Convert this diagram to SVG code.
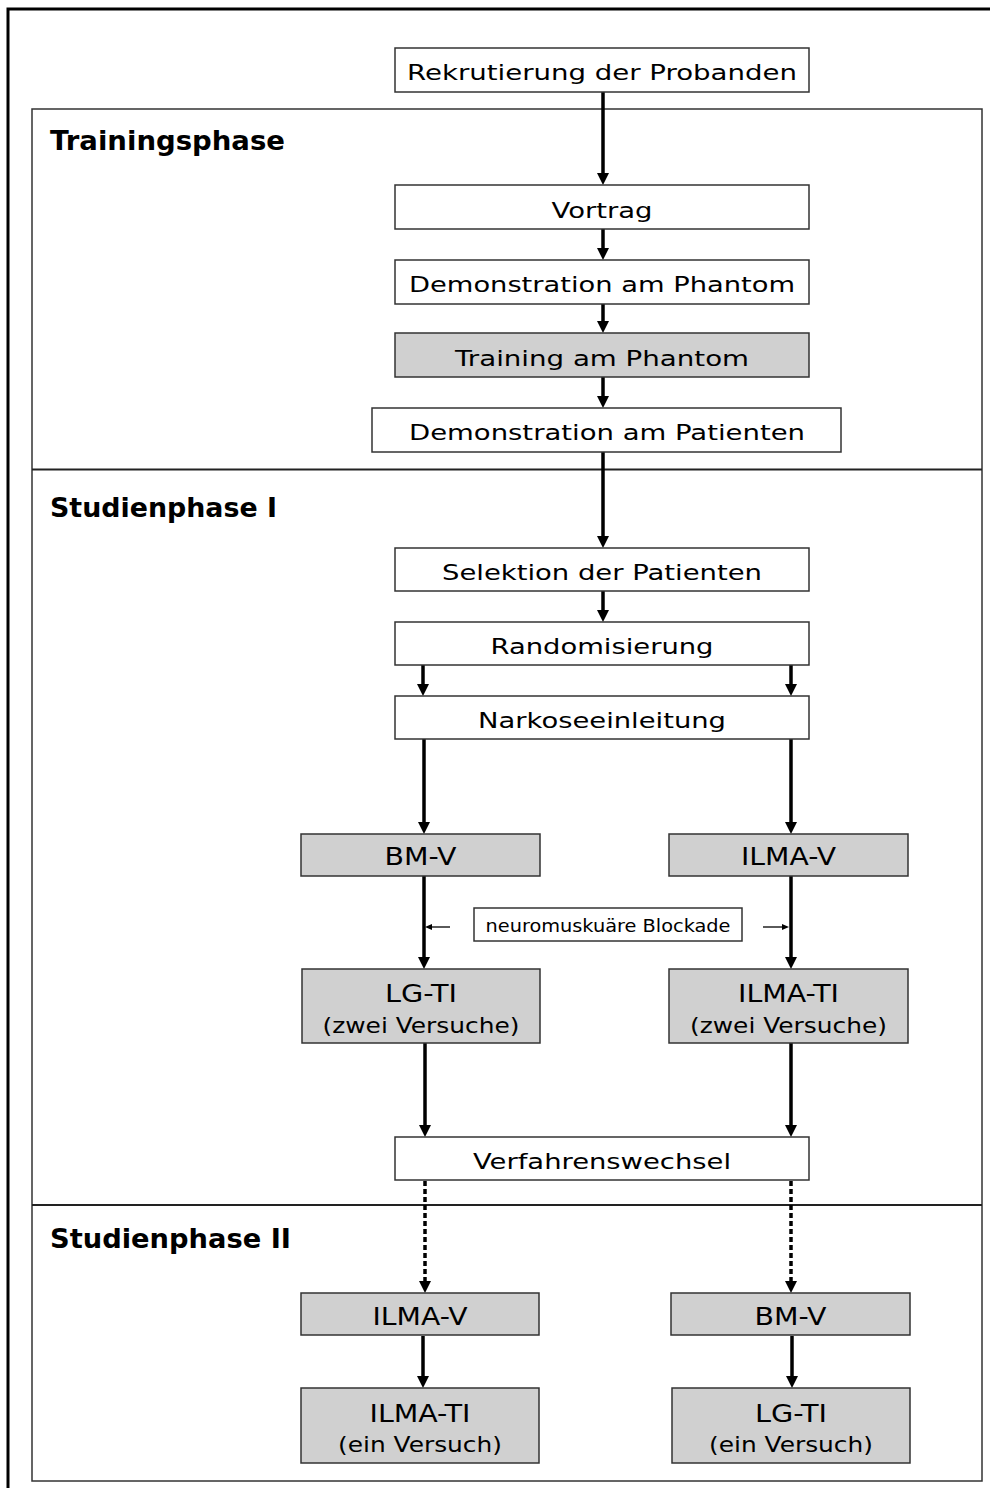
<svg xmlns="http://www.w3.org/2000/svg" width="990" height="1488" viewBox="0 0 990 1488">
<style>
.box{fill:#fff;stroke:#333;stroke-width:1.5}
.gbox{fill:#d0d0d0;stroke:#333;stroke-width:1.5}
.t{font-family:"DejaVu Sans",Verdana,sans-serif;font-size:21px;fill:#000;text-anchor:middle}
.g1{font-family:"DejaVu Sans",Verdana,sans-serif;font-size:24px;fill:#000;text-anchor:middle}
.g2{font-family:"DejaVu Sans",Verdana,sans-serif;font-size:21px;fill:#000;text-anchor:middle}
.s{font-family:"DejaVu Sans",Verdana,sans-serif;font-size:17px;fill:#000;text-anchor:middle}
.h{font-family:"DejaVu Sans",Verdana,sans-serif;font-size:26px;font-weight:bold;fill:#000}
.a{stroke:#000;stroke-width:3.5;fill:none;marker-end:url(#ah)}
.d{stroke:#000;stroke-width:3.5;fill:none;stroke-dasharray:5 3;marker-end:url(#ah)}
.sa{stroke:#000;stroke-width:1.3;fill:none;marker-end:url(#sh)}
.frame{fill:none;stroke:#333;stroke-width:1.5}
</style>
<defs>
<marker id="ah" markerUnits="userSpaceOnUse" markerWidth="12" markerHeight="12" refX="0" refY="6" orient="auto" viewBox="0 0 12 12">
<path d="M0,0 L12,6 L0,12 Z" fill="#000"/>
</marker>
<marker id="sh" markerUnits="userSpaceOnUse" markerWidth="7" markerHeight="6" refX="0" refY="3" orient="auto" viewBox="0 0 7 6">
<path d="M0,0 L7,3 L0,6 Z" fill="#000"/>
</marker>
</defs>
<rect width="990" height="1488" fill="#fff"/>
<path d="M8,1488 V9 H990" fill="none" stroke="#000" stroke-width="3"/>
<g id="phases">
<rect class="frame" x="32" y="109" width="950" height="1372"/>
<line x1="32" y1="469.5" x2="982" y2="469.5" stroke="#222" stroke-width="1.8"/>
<line x1="32" y1="1205" x2="982" y2="1205" stroke="#222" stroke-width="1.8"/>
<text class="h" x="50" y="150" textLength="235" lengthAdjust="spacingAndGlyphs">Trainingsphase</text>
<text class="h" x="50" y="517" textLength="227" lengthAdjust="spacingAndGlyphs">Studienphase I</text>
<text class="h" x="50" y="1248" textLength="241" lengthAdjust="spacingAndGlyphs">Studienphase II</text>
</g>
<g id="connectors">
<line class="a" x1="603" y1="92" x2="603" y2="173"/>
<line class="a" x1="603" y1="229" x2="603" y2="248"/>
<line class="a" x1="603" y1="304" x2="603" y2="321"/>
<line class="a" x1="603" y1="377" x2="603" y2="396"/>
<line class="a" x1="603" y1="452" x2="603" y2="536"/>
<line class="a" x1="603" y1="591" x2="603" y2="610"/>
<line class="a" x1="423" y1="665" x2="423" y2="684"/>
<line class="a" x1="791" y1="665" x2="791" y2="684"/>
<line class="a" x1="424" y1="739" x2="424" y2="822"/>
<line class="a" x1="791" y1="739" x2="791" y2="822"/>
<line class="a" x1="424" y1="876" x2="424" y2="957"/>
<line class="a" x1="791" y1="876" x2="791" y2="957"/>
<line class="sa" x1="450" y1="927" x2="432" y2="927"/>
<line class="sa" x1="763" y1="927" x2="782" y2="927"/>
<line class="a" x1="425" y1="1043" x2="425" y2="1125"/>
<line class="a" x1="791" y1="1043" x2="791" y2="1125"/>
<line class="d" x1="425" y1="1181" x2="425" y2="1281"/>
<line class="d" x1="791" y1="1181" x2="791" y2="1281"/>
<line class="a" x1="423" y1="1336" x2="423" y2="1376"/>
<line class="a" x1="792" y1="1336" x2="792" y2="1376"/>
</g>
<g id="n-rekrutierung"><rect class="box" x="395" y="48" width="414" height="44"/><text class="t" x="602" y="80" textLength="390" lengthAdjust="spacingAndGlyphs">Rekrutierung der Probanden</text></g>
<g id="n-vortrag"><rect class="box" x="395" y="185" width="414" height="44"/><text class="t" x="602" y="218" textLength="101" lengthAdjust="spacingAndGlyphs">Vortrag</text></g>
<g id="n-demo-phantom"><rect class="box" x="395" y="260" width="414" height="44"/><text class="t" x="602" y="292" textLength="386" lengthAdjust="spacingAndGlyphs">Demonstration am Phantom</text></g>
<g id="n-training"><rect class="gbox" x="395" y="333" width="414" height="44"/><text class="t" x="602" y="366" textLength="294" lengthAdjust="spacingAndGlyphs">Training am Phantom</text></g>
<g id="n-demo-patient"><rect class="box" x="372" y="408" width="469" height="44"/><text class="t" x="607" y="440" textLength="396" lengthAdjust="spacingAndGlyphs">Demonstration am Patienten</text></g>
<g id="n-selektion"><rect class="box" x="395" y="548" width="414" height="43"/><text class="t" x="602" y="580" textLength="320" lengthAdjust="spacingAndGlyphs">Selektion der Patienten</text></g>
<g id="n-random"><rect class="box" x="395" y="622" width="414" height="43"/><text class="t" x="602" y="654" textLength="223" lengthAdjust="spacingAndGlyphs">Randomisierung</text></g>
<g id="n-narkose"><rect class="box" x="395" y="696" width="414" height="43"/><text class="t" x="602" y="728" textLength="248" lengthAdjust="spacingAndGlyphs">Narkoseeinleitung</text></g>
<g id="n-bmv1"><rect class="gbox" x="301" y="834" width="239" height="42"/><text class="g1" x="420.5" y="865" textLength="72" lengthAdjust="spacingAndGlyphs">BM-V</text></g>
<g id="n-ilmav1"><rect class="gbox" x="669" y="834" width="239" height="42"/><text class="g1" x="788.5" y="865" textLength="95" lengthAdjust="spacingAndGlyphs">ILMA-V</text></g>
<g id="n-blockade"><rect class="box" x="474" y="908" width="268" height="33"/><text class="s" x="608" y="932" textLength="245" lengthAdjust="spacingAndGlyphs">neuromuskuäre Blockade</text></g>
<g id="n-lgti1"><rect class="gbox" x="302" y="969" width="238" height="74"/><text class="g1" x="421" y="1002" textLength="72" lengthAdjust="spacingAndGlyphs">LG-TI</text><text class="g2" x="421" y="1033" textLength="197" lengthAdjust="spacingAndGlyphs">(zwei Versuche)</text></g>
<g id="n-ilmati1"><rect class="gbox" x="669" y="969" width="239" height="74"/><text class="g1" x="788.5" y="1002" textLength="101" lengthAdjust="spacingAndGlyphs">ILMA-TI</text><text class="g2" x="788.5" y="1033" textLength="197" lengthAdjust="spacingAndGlyphs">(zwei Versuche)</text></g>
<g id="n-wechsel"><rect class="box" x="395" y="1137" width="414" height="43"/><text class="t" x="602" y="1169" textLength="258" lengthAdjust="spacingAndGlyphs">Verfahrenswechsel</text></g>
<g id="n-ilmav2"><rect class="gbox" x="301" y="1293" width="238" height="42"/><text class="g1" x="420" y="1325" textLength="95" lengthAdjust="spacingAndGlyphs">ILMA-V</text></g>
<g id="n-bmv2"><rect class="gbox" x="671" y="1293" width="239" height="42"/><text class="g1" x="790.5" y="1325" textLength="72" lengthAdjust="spacingAndGlyphs">BM-V</text></g>
<g id="n-ilmati2"><rect class="gbox" x="301" y="1388" width="238" height="75"/><text class="g1" x="420" y="1422" textLength="101" lengthAdjust="spacingAndGlyphs">ILMA-TI</text><text class="g2" x="420" y="1452" textLength="164" lengthAdjust="spacingAndGlyphs">(ein Versuch)</text></g>
<g id="n-lgti2"><rect class="gbox" x="672" y="1388" width="238" height="75"/><text class="g1" x="791" y="1422" textLength="72" lengthAdjust="spacingAndGlyphs">LG-TI</text><text class="g2" x="791" y="1452" textLength="164" lengthAdjust="spacingAndGlyphs">(ein Versuch)</text></g>
</svg>
